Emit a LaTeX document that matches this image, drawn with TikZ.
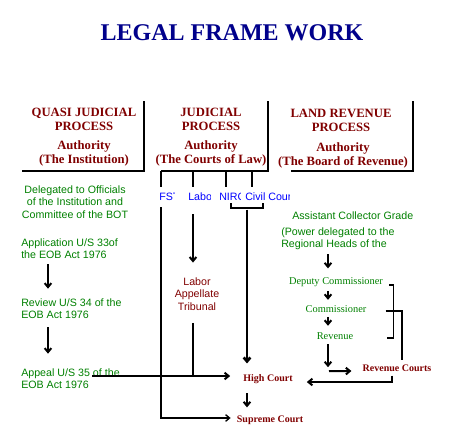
\documentclass[tikz,border=0pt]{standalone}
\usepackage{fontspec}
\setmainfont{Liberation Serif}
\setsansfont{Liberation Sans}
\usepackage{tikz}
\usetikzlibrary{arrows.meta, positioning, calc}
\definecolor{titleblue}{RGB}{0,0,139}
\definecolor{lawred}{RGB}{128,0,0}
\definecolor{stepgreen}{RGB}{0,128,0}
\definecolor{courtblue}{RGB}{0,0,255}
\tikzset{
  heading/.style={
    align=center, inner sep=0pt, text=lawred,
    font=\fontsize{9.5}{10.5}\selectfont\bfseries
  },
  note/.style={
    inner sep=0pt, text=stepgreen,
    font=\sffamily\fontsize{8}{9.2}\selectfont
  },
  rank/.style={
    inner sep=0pt, text=stepgreen,
    font=\fontsize{7.8}{9}\selectfont
  },
  court/.style={
    inner sep=0pt, text=lawred,
    font=\fontsize{7.5}{9}\selectfont\bfseries
  },
  forum/.style={
    inner sep=0pt, anchor=west, text=courtblue,
    font=\sffamily\fontsize{8}{9.2}\selectfont
  },
  frame/.style={line width=0.8pt, black},
  arrowk/.style={-{Straight Barb[length=3pt,width=5pt]}, line width=1.5pt, black},
  arrowthin/.style={-{Straight Barb[length=3pt,width=5pt]}, line width=1pt, black}
}
\begin{document}
\begin{tikzpicture}[x=0.75pt, y=-0.75pt]
  \useasboundingbox (0,0) rectangle (465,433);
  \node[inner sep=0pt, text=titleblue, font=\fontsize{18}{20}\selectfont\bfseries]
    (title) at (232,33) {LEGAL FRAME WORK};

  \node[heading] (quasihd) at (84,119) {QUASI JUDICIAL\\PROCESS};
  \node[heading] (quasiau) at (84,153) {Authority\\(The Institution)};
  \node[heading] (judhd) at (211,119) {JUDICIAL\\PROCESS};
  \node[heading] (judau) at (211,153) {Authority\\(The Courts of Law)};
  \node[heading] (landhd) at (341,120) {LAND REVENUE\\PROCESS};
  \node[heading] (landau) at (343,155) {Authority\\(The Board of Revenue)};

  \draw[frame] (144,101) |- (22,171);
  \draw[frame] (268,101) |- (161,171);
  \draw[frame] (413,101) |- (291,171);
  \foreach \x in {161,193,226,252}
    \draw[frame] (\x,171) -- (\x,187);

  \begin{scope}
    \clip (157,188) rectangle (174,206);
    \node[forum] (fst) at (159,197) {FST};
  \end{scope}
  \begin{scope}
    \clip (186,188) rectangle (210,206);
    \node[forum] (labor) at (188,197) {Labor};
  \end{scope}
  \begin{scope}
    \clip (217,188) rectangle (240,206);
    \node[forum] (nirc) at (219,197) {NIRC};
  \end{scope}
  \begin{scope}
    \clip (243,188) rectangle (289,206);
    \node[forum] (civil) at (245,197) {Civil Court};
  \end{scope}

  \node[note, align=center] (deleg) at (75,202)
    {Delegated to Officials\\of the Institution and\\Committee of the BOT};
  \node[note, align=left, anchor=west] (app33) at (21,249)
    {Application U/S 33of\\the EOB Act 1976};
  \node[note, align=left, anchor=west] (rev34) at (21,309)
    {Review U/S 34 of the\\EOB Act 1976};
  \node[note, align=left, anchor=west] (app35) at (21,379)
    {Appeal U/S 35 of the\\EOB Act 1976};
  \draw[arrowk] ($(app33.south west)+(27,5)$) -- ($(rev34.north west)+(27,-10)$);
  \draw[arrowk] ($(rev34.south west)+(27,8)$) -- ($(app35.north west)+(27,-15)$);

  \node[note, align=center, text=lawred] (tribunal) at (197,294)
    {Labor\\Appellate\\Tribunal};
  \node[court] (highct) at (268,379) {High Court};
  \node[court] (supreme) at (270,420) {Supreme Court};

  \draw[frame] (231,203) |- (263,208) -- (263,203);
  \coordinate (civdrop) at ($(civil.south west)+(2,8.5)$);
  \draw[arrowk, line width=2pt, shorten >=8pt] (civdrop) -- (civdrop |- highct.north);
  \draw[arrowk, shorten <=7pt, shorten >=6pt] (civdrop |- highct.south) -- (civdrop |- supreme.north);
  \draw[arrowk] ($(labor.south west)+(5,13)$) -- ($(tribunal.north)+(-4,-15)$);
  \draw[frame] ($(tribunal.south)+(-4,12.5)$) -- ++(0,53);
  \draw[arrowk] ($(app35.west)+(71,-3)$) -- ($(highct.west)+(-13,-3)$);
  \draw[arrowthin] ($(fst.south west)+(2,6)$) |- ($(supreme.west)+(-6,-2)$);

  \node[note, anchor=west] (acg) at (292,216) {Assistant Collector Grade};
  \node[note, align=left, anchor=west] (power) at (281,239)
    {(Power delegated to the\\Regional Heads of the};
  \node[rank] (dc) at (336,282) {Deputy Commissioner};
  \node[rank] (comm) at (336,309) {Commissioner};
  \node[rank] (rev) at (335,336) {Revenue};
  \node[court] (revct) at (397,368) {Revenue Courts};

  \draw[arrowk] ($(power.south west)+(47,4)$) -- ++(0,14);
  \draw[arrowk] ($(dc.south)+(-8,4)$) -- ++(0,9);
  \draw[arrowk] ($(comm.south)+(-8,4)$) -- ++(0,9);
  \draw[arrowk] ($(rev.south)+(-7,4.5)$) -- ++(0,23) coordinate (revbend);
  \draw[arrowk] ($(revbend)+(1,4)$) -- ($(revct.west)+(-11,3)$);
  \draw[frame] ($(dc.east)+(6,3)$) -- ++(4,0) |- ($(rev.east)+(34,2)$);
  \draw[frame] ($(comm.east)+(19,2)$) -| ($(revct.north)+(5,-4)$);
  \draw[arrowk] ($(revct.south)+(-5,4)$) |- ($(highct.east)+(14,3)$);
\end{tikzpicture}
\end{document}
